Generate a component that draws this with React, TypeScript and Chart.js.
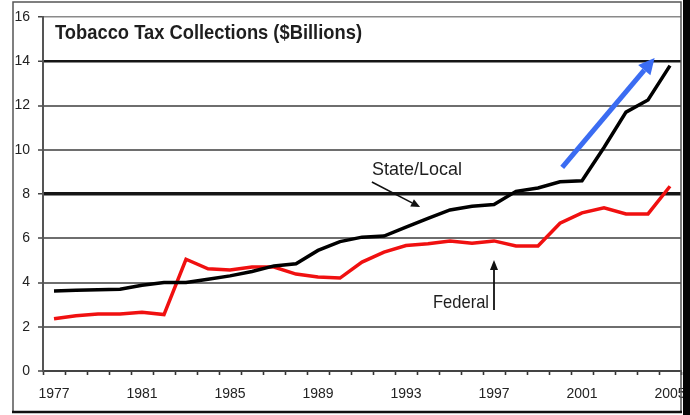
import React, { useEffect, useRef } from 'react';
import { Chart, registerables } from 'chart.js';

Chart.register(...registerables);

const years = ['1977','1978','1979','1980','1981','1982','1983','1984','1985','1986','1987','1988','1989','1990','1991','1992','1993','1994','1995','1996','1997','1998','1999','2000','2001','2002','2003','2004','2005'];
const stateLocal = [3.62,3.65,3.67,3.7,3.88,4.0,4.0,4.15,4.3,4.5,4.75,4.85,5.45,5.85,6.05,6.1,6.5,6.9,7.28,7.45,7.52,8.12,8.27,8.55,8.6,10.1,11.7,12.25,13.8];
const federal = [2.36,2.5,2.58,2.58,2.65,2.55,5.05,4.62,4.57,4.7,4.7,4.38,4.25,4.2,4.92,5.37,5.67,5.75,5.88,5.78,5.88,5.65,5.65,6.68,7.15,7.38,7.1,7.1,8.35];
const yTicks = [0,2,4,6,8,10,12,14,16];
const labelEvery = 4;

const chartTitle = 'Tobacco Tax Collections ($Billions)';
// annotations in data coordinates (year, value)
const stateLabel = { text: 'State/Local', year: 1993.5, value: 9.08 };
const stateArrowYears = [1991.45, 1993.64];
const stateArrowValues = [8.54, 7.41];
const federalLabel = { text: 'Federal', year: 1995.5, value: 3.1 };
const federalArrowYears = [1997.0, 1997.0];
const federalArrowValues = [2.76, 5.02];
const trendArrowYears = [2000.1, 2004.3];
const trendArrowValues = [9.2, 14.15];

const FONT = "'Liberation Sans Narrow', 'Arial Narrow', 'Liberation Sans', Arial, sans-serif";

function drawArrow(ctx: CanvasRenderingContext2D, x1: number, y1: number, x2: number, y2: number, color: string, width: number, headLen: number, headW: number) {
  const ang = Math.atan2(y2 - y1, x2 - x1);
  const bx = x2 - headLen * Math.cos(ang);
  const by = y2 - headLen * Math.sin(ang);
  ctx.save();
  ctx.strokeStyle = color;
  ctx.lineWidth = width;
  ctx.lineCap = 'butt';
  ctx.beginPath();
  ctx.moveTo(x1, y1);
  ctx.lineTo(bx, by);
  ctx.stroke();
  ctx.fillStyle = color;
  ctx.beginPath();
  ctx.moveTo(x2, y2);
  ctx.lineTo(bx + (headW / 2) * Math.sin(ang), by - (headW / 2) * Math.cos(ang));
  ctx.lineTo(bx - (headW / 2) * Math.sin(ang), by + (headW / 2) * Math.cos(ang));
  ctx.closePath();
  ctx.fill();
  ctx.restore();
}

function narrowText(ctx: CanvasRenderingContext2D, text: string, x: number, y: number, targetWidth: number, align: 'left' | 'center') {
  const w = ctx.measureText(text).width;
  const s = Math.min(1, targetWidth / w);
  ctx.save();
  ctx.translate(x, y);
  ctx.scale(s, 1);
  ctx.textAlign = align;
  ctx.fillText(text, 0, 0);
  ctx.restore();
}

const decorPlugin = {
  id: 'decor',
  afterDatasetsDraw(chart: any) {
    const ctx: CanvasRenderingContext2D = chart.ctx;
    const xs = chart.scales.x;
    const ys = chart.scales.y;
    const px = (yr: number) => xs.getPixelForValue(yr - Number(years[0]));
    const py = (v: number) => ys.getPixelForValue(v);
    const area = chart.chartArea;

    ctx.save();
    ctx.fillStyle = '#1e1e1e';
    ctx.textBaseline = 'middle';
    ctx.font = `bold 21px ${FONT}`;
    narrowText(ctx, chartTitle, area.left + 12, area.top + 16, 307, 'left');

    ctx.font = `19px ${FONT}`;
    narrowText(ctx, stateLabel.text, px(stateLabel.year), py(stateLabel.value), 90, 'center');
    narrowText(ctx, federalLabel.text, px(federalLabel.year), py(federalLabel.value), 56, 'center');
    ctx.restore();

    drawArrow(ctx, px(stateArrowYears[0]), py(stateArrowValues[0]), px(stateArrowYears[1]), py(stateArrowValues[1]), '#111', 1.6, 9, 8);
    drawArrow(ctx, px(federalArrowYears[0]), py(federalArrowValues[0]), px(federalArrowYears[1]), py(federalArrowValues[1]), '#111', 1.8, 10, 8);
    drawArrow(ctx, px(trendArrowYears[0]), py(trendArrowValues[0]), px(trendArrowYears[1]), py(trendArrowValues[1]), '#3b6cf2', 5, 16, 16);
  },
  afterDraw(chart: any) {
    const ctx: CanvasRenderingContext2D = chart.ctx;
    ctx.save();
    ctx.strokeStyle = '#555';
    ctx.lineWidth = 1.5;
    ctx.beginPath();
    ctx.moveTo(13, 412);
    ctx.lineTo(13, 2);
    ctx.lineTo(681, 2);
    ctx.lineTo(681, 412);
    ctx.stroke();
    ctx.strokeStyle = '#111';
    ctx.lineWidth = 2.5;
    ctx.beginPath();
    ctx.moveTo(12, 412);
    ctx.lineTo(682, 412);
    ctx.stroke();
    ctx.fillStyle = '#050505';
    ctx.fillRect(683, 0, 7, 415);
    ctx.restore();
  },
};

export default function App() {
  const ref = useRef<HTMLCanvasElement | null>(null);
  useEffect(() => {
    document.body.style.margin = '0';
    const canvas = ref.current;
    if (!canvas) return;
    const chart = new Chart(canvas, {
      type: 'line',
      data: {
        labels: years,
        datasets: [
          { label: 'State/Local', data: stateLocal, borderColor: '#000000', borderWidth: 3.5, pointRadius: 0, tension: 0, fill: false },
          { label: 'Federal', data: federal, borderColor: '#f01010', borderWidth: 3.5, pointRadius: 0, tension: 0, fill: false },
        ],
      },
      options: {
        responsive: false,
        animation: false,
        devicePixelRatio: 1,
        layout: { padding: { left: 0, top: 17, right: 9, bottom: 0 } },
        plugins: { legend: { display: false }, tooltip: { enabled: false }, title: { display: false } },
        scales: {
          x: {
            type: 'category',
            offset: true,
            grid: { display: true, drawOnChartArea: false, drawTicks: true, tickLength: 4, offset: true, tickColor: '#333', tickWidth: 1.6 },
            border: { display: true, color: '#444', width: 2 },
            ticks: {
              autoSkip: false,
              maxRotation: 0,
              padding: 11,
              color: '#222',
              font: { family: FONT, size: 14 },
              callback: (_v: any, i: number) => (i % labelEvery === 0 ? years[i] : ''),
            },
            afterFit: (s: any) => { s.height = 44; s.paddingLeft = 0; s.paddingRight = 0; },
          },
          y: {
            min: 0,
            max: 16,
            afterBuildTicks: (s: any) => { s.ticks = yTicks.map((v) => ({ value: v })); },
            grid: {
              drawTicks: true,
              tickLength: 5,
              color: (c: any) => {
                const v = c.tick ? c.tick.value : null;
                if (v === 8 || v === 14) return '#151515';
                if (v === 16) return '#8a8a8a';
                if (v === 0) return '#444';
                return '#6e6e6e';
              },
              lineWidth: (c: any) => {
                const v = c.tick ? c.tick.value : null;
                if (v === 8) return 3.5;
                if (v === 14) return 2.5;
                if (v === 16) return 1.5;
                return 2;
              },
              tickColor: '#444',
              tickWidth: 1.5,
            },
            border: { display: true, color: '#555', width: 2 },
            ticks: { padding: 8, color: '#222', font: { family: FONT, size: 14 } },
            afterFit: (s: any) => { s.width = 43; },
          },
        },
      },
      plugins: [decorPlugin],
    });
    return () => chart.destroy();
  }, []);
  return <canvas ref={ref} width={690} height={415} style={{ display: 'block' }} />;
}
